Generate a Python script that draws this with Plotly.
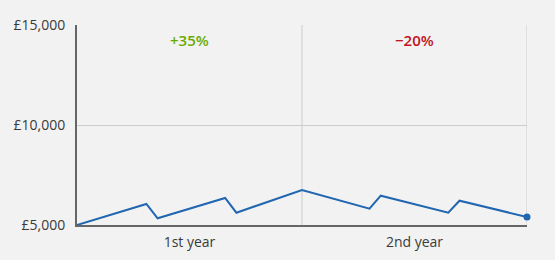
import plotly.graph_objects as go

months = [0, 3.7, 4.3, 7.9, 8.5, 12, 15.6, 16.2, 19.8, 20.4, 24]
values = [5000, 6050, 5335, 6350, 5615, 6750, 5815, 6465, 5615, 6215, 5400]
year_pos = [6, 18]
year_labels = ["1st year", "2nd year"]
y_ticks = [5000, 10000, 15000]
y_labels = ["\u00a35,000", "\u00a310,000", "\u00a315,000"]
changes = ["+35%", "\u221220%"]
change_colors = ["#6aaa00", "#c0141e"]

fig = go.Figure()
fig.add_trace(go.Scatter(
    x=months, y=values, mode="lines", line=dict(color="#2166b0", width=2),
    hoverinfo="skip", cliponaxis=False))
fig.add_trace(go.Scatter(
    x=[months[-1]], y=[values[-1]], mode="markers",
    marker=dict(color="#2166b0", size=7), cliponaxis=False, hoverinfo="skip"))

for xv in [12, 24]:
    fig.add_shape(type="line", xref="x", yref="y", x0=xv, x1=xv, y0=5000, y1=15000,
                  line=dict(color="#cccccc", width=1), layer="below")

for xp, t, c in zip(year_pos, changes, change_colors):
    fig.add_annotation(x=xp, y=14250, text=t, showarrow=False,
                       font=dict(size=15, color=c, family="Open Sans", weight=600))

fig.update_layout(
    width=555, height=260, margin=dict(l=77, r=28, t=25, b=35),
    paper_bgcolor="#f2f2f2", plot_bgcolor="#f2f2f2", showlegend=False,
    font=dict(family="Open Sans", size=14, color="#3a3a3a"),
)
fig.update_xaxes(range=[0, 24], tickvals=year_pos, ticktext=year_labels,
                 showgrid=False, zeroline=False, showline=True, linecolor="#666666",
                 linewidth=2, ticks="", ticklabelstandoff=3, automargin=False,
                 fixedrange=True)
fig.update_yaxes(range=[5000, 15000], tickvals=y_ticks, ticktext=y_labels,
                 showgrid=True, gridcolor="#cccccc", gridwidth=1,
                 zeroline=False, showline=True, linecolor="#666666", linewidth=2,
                 ticks="", ticklabelstandoff=7, automargin=False, fixedrange=True)

fig.write_html("out.html")
